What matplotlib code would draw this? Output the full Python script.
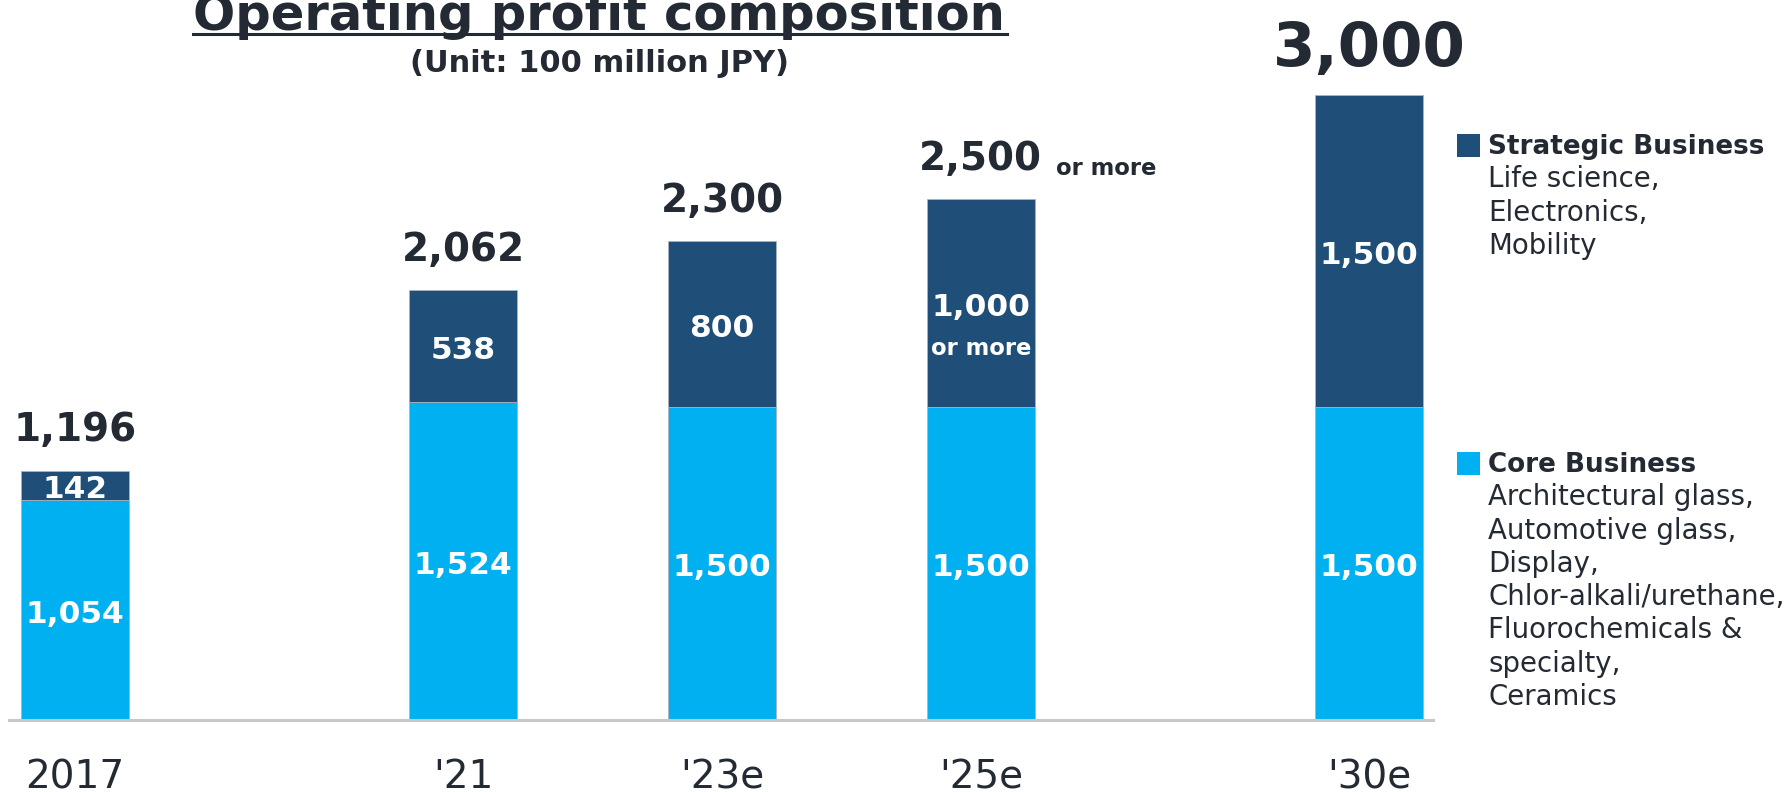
import matplotlib
matplotlib.use("Agg")
import matplotlib.pyplot as plt
from matplotlib.lines import Line2D
from matplotlib.patches import Rectangle

# Operating profit by segment, 100 million JPY
years = ["2017", "'21", "'23e", "'25e", "'30e"]
core = [1054, 1524, 1500, 1500, 1500]
strategic = [142, 538, 800, 1000, 1500]
totals = [1196, 2062, 2300, 2500, 3000]
xpos = [0, 1.5, 2.5, 3.5, 5]

strategic_desc = ["Life science,", "Electronics,", "Mobility"]
core_desc = ["Architectural glass,", "Automotive glass,", "Display,",
             "Chlor-alkali/urethane,", "Fluorochemicals &", "specialty,",
             "Ceramics"]

NAVY = "#1f4e79"
SKY = "#00b0f0"
INK = "#232a33"

W, H = 1791, 792
fig = plt.figure(figsize=(W / 100, H / 100), dpi=100)
ax = fig.add_axes([9 / W, 72.4 / H, 1424 / W, 719.6 / H])

bw = 0.4185
ax.bar(xpos, core, bw, color=SKY, edgecolor="#aab4be", linewidth=0.6)
ax.bar(xpos, strategic, bw, bottom=core, color=NAVY, edgecolor="#aab4be",
       linewidth=0.6)

ax.set_xlim(-0.255, 5.247)
ax.set_ylim(0, 3456)

for s in ["top", "left", "right"]:
    ax.spines[s].set_visible(False)
ax.spines["bottom"].set_color("#c8c8c8")
ax.spines["bottom"].set_linewidth(2.2)
ax.set_yticks([])
ax.set_xticks(xpos, labels=years)
ax.tick_params(axis="x", length=0, pad=27.8, labelsize=28, labelcolor=INK)

# segment values inside the bars
inner = dict(textcoords="offset points", ha="center", va="center",
             color="white", fontsize=22.5, fontweight="bold")
for i, x in enumerate(xpos):
    ax.annotate(f"{core[i]:,}", (x, core[i] / 2), xytext=(0, -3), **inner)
    mid = core[i] + strategic[i] / 2
    ax.annotate(f"{strategic[i]:,}", (x, mid), xytext=(0, -3), **inner)
    if years[i] == "'25e":
        ax.annotate("or more", (x, mid), xytext=(0, -37.4),
                    textcoords="offset points", ha="center", va="baseline",
                    color="white", fontsize=16.3, fontweight="bold")

# totals above the bars
for i, x in enumerate(xpos):
    size = 44 if i == len(xpos) - 1 else 28
    ax.annotate(f"{totals[i]:,}", (x, totals[i]), xytext=(0, 21),
                textcoords="offset points", ha="center", va="baseline",
                color=INK, fontsize=size, fontweight="bold")
    if years[i] == "'25e":
        ax.annotate("or more", (x, totals[i]), xytext=(54, 17.3),
                    textcoords="offset points", ha="left", va="baseline",
                    color=INK, fontsize=16.3, fontweight="bold")

# title with underline
fig.text(599 / W, (H - 30) / H, "Operating profit composition", ha="center",
         va="baseline", fontsize=35.7, fontweight="bold", color=INK)
fig.add_artist(Line2D([193 / W, 1007 / W], [(H - 34) / H] * 2,
                      transform=fig.transFigure, color=INK, linewidth=2.2))
fig.text(599 / W, (H - 72) / H, "(Unit: 100 million JPY)", ha="center",
         va="baseline", fontsize=22, fontweight="bold", color=INK)


# legend blocks on the right
def legend_block(top_px, colour, header, lines):
    fig.add_artist(Rectangle((1457 / W, (H - top_px - 23) / H), 23 / W,
                             23 / H, transform=fig.transFigure,
                             facecolor=colour, edgecolor="none"))
    base = top_px + 20
    fig.text(1488 / W, (H - base) / H, header, ha="left", va="baseline",
             fontsize=18.9, fontweight="bold", color=INK)
    for k, line in enumerate(lines, start=1):
        fig.text(1488 / W, (H - base - 33.3 * k) / H, line, ha="left",
                 va="baseline", fontsize=19.9, color=INK)


legend_block(134, NAVY, "Strategic Business", strategic_desc)
legend_block(452, SKY, "Core Business", core_desc)

fig.savefig("out.png", dpi=100)
